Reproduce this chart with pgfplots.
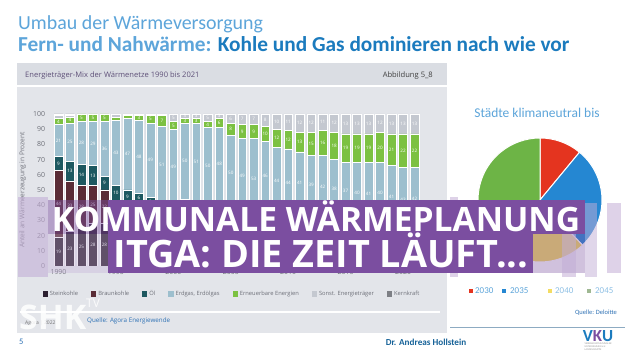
\documentclass[border=0pt]{standalone}
\usepackage{pgfplots}
\pgfplotsset{compat=1.18}
\usepackage{pgfplotstable}
\usepackage{graphicx}
\usepackage{fontspec}
\setmainfont{Carlito}
\newfontfamily\chartfont{Open Sans}
\newfontfamily\ovfont{Open Sans}
\definecolor{cstk}{HTML}{2B1F30}
\definecolor{cbrk}{HTML}{5A2C36}
\definecolor{coel}{HTML}{1D5860}
\definecolor{cgas}{HTML}{9DBFCE}
\definecolor{cee}{HTML}{7CC142}
\definecolor{cson}{HTML}{C4C8D0}
\definecolor{ckern}{HTML}{7D7F85}
\definecolor{panel}{HTML}{E3E5EA}
\definecolor{panelhead}{HTML}{DADDE3}
\definecolor{tickgray}{HTML}{6E7079}
\definecolor{headtxt}{HTML}{5E5078}
\definecolor{tlight}{HTML}{5DA5DA}
\definecolor{tdark}{HTML}{1B7BBE}
\definecolor{srcblue}{HTML}{2F72B5}
\definecolor{ovpurple}{HTML}{7B4EA0}
\definecolor{ovlilac}{HTML}{C3AED6}
\definecolor{pred}{HTML}{E4341F}
\definecolor{pblue}{HTML}{2587D2}
\definecolor{pyellow}{HTML}{F3DC63}
\definecolor{pgreen}{HTML}{6DB446}
\pgfplotstableread{
year stk brk oel gas ee son kern
1990 19 44 9 21 4 2 1
1991 23 33 13 25 4 1 1
1992 25 28 14 28 5 0 0
1993 28 25 13 29 5 0 0
1994 28 22 9 36 5 0 0
1995 27 16 10 43 2 2 0
1996 26 15 9 47 2 1 0
1997 26 16 6 48 3 1 0
1998 25 15 5 49 5 1 0
1999 24 13 4 51 7 1 0
2000 24 13 4 49 5 5 0
2001 25 15 4 50 3 3 0
2002 25 14 4 51 3 3 0
2003 24 13 4 50 4 5 0
2004 25 14 4 48 6 3 0
2005 20 13 3 50 8 6 0
2006 19 13 3 49 9 7 0
2007 17 11 3 53 9 7 0
2008 20 13 3 46 10 8 0
2009 19 12 3 44 12 10 0
2010 18 12 3 44 12 11 0
2011 19 13 2 41 13 12 0
2012 19 13 2 39 15 12 0
2013 17 12 2 42 16 11 0
2014 18 12 2 38 18 12 0
2015 17 12 2 37 19 13 0
2016 16 11 1 40 19 13 0
2017 15 11 1 41 19 13 0
2018 16 11 1 40 20 12 0
2019 14 10 1 41 21 13 0
2020 12 9 1 43 22 13 0
2021 13 9 1 42 22 13 0
}\mixdata
% label positions: middle of each stacked segment
\pgfplotstablecreatecol[expr={\thisrow{stk}/2}]{mstk}\mixdata
\pgfplotstablecreatecol[expr={\thisrow{stk}+\thisrow{brk}/2}]{mbrk}\mixdata
\pgfplotstablecreatecol[expr={\thisrow{stk}+\thisrow{brk}+\thisrow{oel}/2}]{moel}\mixdata
\pgfplotstablecreatecol[expr={\thisrow{stk}+\thisrow{brk}+\thisrow{oel}+\thisrow{gas}/2}]{mgas}\mixdata
\pgfplotstablecreatecol[expr={\thisrow{stk}+\thisrow{brk}+\thisrow{oel}+\thisrow{gas}+\thisrow{ee}/2}]{mee}\mixdata
\pgfplotstablecreatecol[expr={\thisrow{stk}+\thisrow{brk}+\thisrow{oel}+\thisrow{gas}+\thisrow{ee}+\thisrow{son}/2}]{mson}\mixdata
\begin{document}
\begin{tikzpicture}
\useasboundingbox (0,0) rectangle (640bp,360bp);
\fill[white] (0,0) rectangle (640bp,360bp);
\begin{scope}[x=1bp,y=-1bp,shift={(0,360bp)}]
  % titles
  \node[anchor=base west,inner sep=0,text=tlight,font=\fontsize{20}{22}\selectfont] at (18,30) {Umbau der Wärmeversorgung};
  \node[anchor=base west,inner sep=0,font=\bfseries\fontsize{21.4}{23}\selectfont] at (18,52) {\textcolor{tlight}{Fern- und Nahwärme:} \textcolor{tdark}{Kohle und Gas dominieren nach wie vor}};
  % panel
  \fill[panel] (17,63) rectangle (447,333);
  \fill[panelhead] (17,63) rectangle (447,85);
  \draw[white,line width=1.2bp] (17,86) -- (447,86);
  \draw[white,line width=1.2bp] (20,312) -- (440,312);
  \node[anchor=west,inner sep=0,text=headtxt,font=\chartfont\fontsize{7.6}{9}\selectfont] at (25,76) {Energieträger-Mix der Wärmenetze 1990 bis 2021};
  \node[anchor=east,inner sep=0,text=black!75,font=\chartfont\fontsize{7.6}{9}\selectfont] at (433,76) {Abbildung 5\_8};
  \node[anchor=west,inner sep=0,text=black!55,font=\chartfont\fontsize{5}{6}\selectfont] at (25,323) {Agora | 2022};
  \node[anchor=west,inner sep=0,text=srcblue,font=\chartfont\fontsize{6.3}{7}\selectfont] at (87,321) {Quelle: Agora Energiewende};
  % right side texts
  \node[anchor=center,inner sep=0,text=tlight,font=\fontsize{13.5}{15}\selectfont] at (537,113) {Städte klimaneutral bis};
  \node[anchor=east,inner sep=0,text=srcblue,font=\fontsize{6.5}{7}\selectfont] at (617,313) {Quelle: Deloitte};
  \draw[black!30!tlight!60,line width=0.6bp] (450,327) -- (625,327);
  \node[anchor=west,inner sep=0,text=srcblue,font=\fontsize{8.5}{9}\selectfont] at (19,342) {5};
  \node[anchor=center,inner sep=0,text=tdark!80!black,font=\bfseries\fontsize{9.2}{10}\selectfont] at (426,342) {Dr. Andreas Hollstein};
  \node[anchor=center,inner sep=0,text=tdark,font=\bfseries\fontsize{17}{18}\selectfont] at (598,336) {V\textcolor{ovpurple}{K}U};
  \node[anchor=north,inner sep=0,text=black!40,font=\fontsize{2.6}{3}\selectfont,align=left] at (598,343) {VERBAND KOMMUNALER\\UNTERNEHMEN e.V.\\LANDESGRUPPE};
\end{scope}
\begin{axis}[
  at={(51.6bp,94bp)}, anchor=south west,
  scale only axis, width=369.8bp, height=152bp,
  xmin=1989.4, xmax=2021.6, ymin=0, ymax=100,
  ybar stacked, bar width=8.8bp,
  axis line style={draw=none}, tick style={draw=none},
  xtick={1990,1995,...,2020}, ytick={0,10,...,100},
  /pgf/number format/assume math mode=true,
  x tick label style={/pgf/number format/1000 sep={}},
  yticklabel style={xshift=-3bp},
  tick label style={font=\chartfont\fontsize{7}{8}\selectfont, text=tickgray},
  ylabel={Anteil an Wärmeerzeugung in Prozent},
  every axis y label/.style={at={(rel axis cs:0,0.5)}, xshift=-29bp, rotate=90, anchor=center,
    font=\chartfont\fontsize{6.6}{7}\selectfont, text=tickgray},
  legend style={at={(axis description cs:0.488,-0.184)}, anchor=center, draw=none, fill=none,
    font=\chartfont\fontsize{5.8}{6}\selectfont, text=tickgray, legend columns=7,
    /tikz/every even column/.append style={column sep=11bp}},
  legend image code/.code={\fill[#1,draw=none] (0bp,-2.6bp) rectangle (5.2bp,2.6bp);},
]
\addplot[fill=cstk, draw=white, line width=0.5bp] table[x=year,y=stk] {\mixdata};
\addlegendentry{Steinkohle}
\addplot[fill=cbrk, draw=white, line width=0.5bp] table[x=year,y=brk] {\mixdata};
\addlegendentry{Braunkohle}
\addplot[fill=coel, draw=white, line width=0.5bp] table[x=year,y=oel] {\mixdata};
\addlegendentry{Öl}
\addplot[fill=cgas, draw=white, line width=0.5bp] table[x=year,y=gas] {\mixdata};
\addlegendentry{{Erdgas, Erdölgas}}
\addplot[fill=cee, draw=white, line width=0.5bp] table[x=year,y=ee] {\mixdata};
\addlegendentry{Erneuerbare Energien}
\addplot[fill=cson, draw=white, line width=0.5bp] table[x=year,y=son] {\mixdata};
\addlegendentry{Sonst. Energieträger}
\addplot[fill=ckern, draw=white, line width=0.5bp] table[x=year,y=kern] {\mixdata};
\addlegendentry{Kernkraft}
\end{axis}
\begin{axis}[
  at={(51.6bp,94bp)}, anchor=south west,
  scale only axis, width=369.8bp, height=152bp,
  xmin=1989.4, xmax=2021.6, ymin=0, ymax=100,
  hide axis, clip=false,
  point meta=explicit symbolic,
  nodes near coords={\ifdim\pgfplotspointmeta pt<2.5pt \else\pgfplotspointmeta\fi},
  every node near coord/.append style={font=\chartfont\fontsize{4.6}{5}\selectfont, text=white, anchor=center, inner sep=0pt},
  lbl/.style={draw=none, mark=none},
]
\addplot[lbl] table[x=year,y=mstk,meta=stk] {\mixdata};
\addplot[lbl] table[x=year,y=mbrk,meta=brk] {\mixdata};
\addplot[lbl] table[x=year,y=moel,meta=oel] {\mixdata};
\addplot[lbl] table[x=year,y=mgas,meta=gas] {\mixdata};
\addplot[lbl] table[x=year,y=mee,meta=ee] {\mixdata};
\addplot[lbl] table[x=year,y=mson,meta=son] {\mixdata};
\end{axis}
\begin{scope}[x=1bp,y=-1bp,shift={(0,360bp)}]
  % pie (shares: 2030 11%, 2035 27%, 2040 26%, 2045 36%)
  \def\R{62}
  \fill[pred,draw=white,line width=1bp] (540,200) -- ++(-90:\R) arc[start angle=-90,end angle=-50.4,radius=\R] -- cycle;
  \fill[pblue,draw=white,line width=1bp] (540,200) -- ++(-50.4:\R) arc[start angle=-50.4,end angle=46.8,radius=\R] -- cycle;
  \fill[pyellow,draw=white,line width=1bp] (540,200) -- ++(46.8:\R) arc[start angle=46.8,end angle=140.4,radius=\R] -- cycle;
  \fill[pgreen,draw=white,line width=1bp] (540,200) -- ++(140.4:\R) arc[start angle=140.4,end angle=270,radius=\R] -- cycle;
  % pie legend
  \begin{scope}[font=\fontsize{9}{10}\selectfont]
  \fill[pred] (469,289) rectangle (473,293); \node[anchor=west,inner sep=0,text=tlight] at (475,291) {2030};
  \fill[pblue] (502,289) rectangle (506,293); \node[anchor=west,inner sep=0,text=tlight] at (510,291) {2035};
  \fill[pyellow] (548,289) rectangle (552,293); \node[anchor=west,inner sep=0,text=tlight!70] at (555,291) {2040};
  \fill[pgreen!50!gray!70] (587,289) rectangle (591,293); \node[anchor=west,inner sep=0,text=tlight!70] at (595,291) {2045};
  \end{scope}
  % watermark
  \node[anchor=base west,inner sep=0,text=white,opacity=0.85,font=\chartfont\bfseries\fontsize{34}{36}\selectfont] at (19,330) {SHK};
  \node[anchor=base west,inner sep=0,text=white,opacity=0.85,font=\chartfont\fontsize{12}{12}\selectfont] at (86,308) {TV};
  % overlay stripes
  \fill[ovlilac,opacity=0.6] (18,197) rectangle (48,277);
  \fill[ovpurple,opacity=0.45] (48,200) rectangle (108,234);
  \fill[ovlilac,opacity=0.35] (48,234) rectangle (108,273);
  \fill[ovpurple,opacity=0.35] (533,234) rectangle (585,273);
  \fill[ovlilac,opacity=0.55] (450,197) rectangle (458,277);
  \fill[ovlilac,opacity=0.55] (562,203) rectangle (576,277);
  \fill[ovlilac,opacity=0.5] (585,203) rectangle (597,277);
  \fill[ovlilac,opacity=0.55] (607,203) rectangle (621,273);
  \fill[ovpurple] (108,200) rectangle (585,234);
  \fill[ovpurple] (108,234) rectangle (533,273);
  \node[anchor=base,inner sep=0,text=white,font=\ovfont\bfseries\fontsize{37}{40}\selectfont] at (316,232) {\resizebox{528bp}{!}{KOMMUNALE WÄRMEPLANUNG}};
  \node[anchor=base,inner sep=0,text=white,font=\ovfont\bfseries\fontsize{37}{40}\selectfont] at (321,268) {\resizebox{415bp}{!}{ITGA: DIE ZEIT LÄUFT...}};
\end{scope}
\end{tikzpicture}
\end{document}
